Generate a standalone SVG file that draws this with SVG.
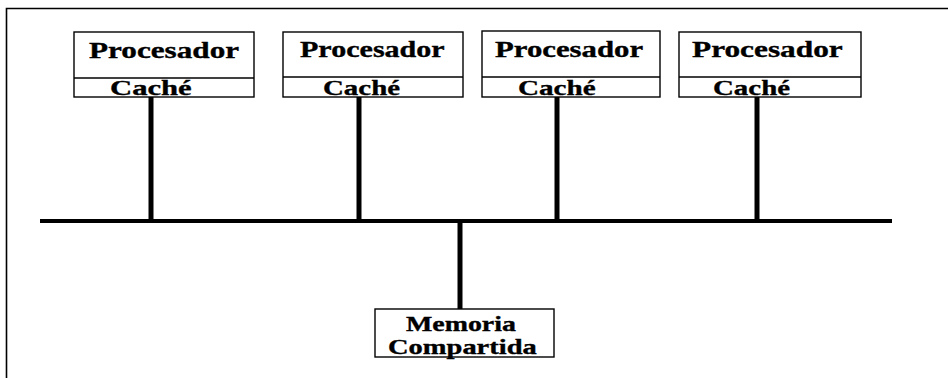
<svg xmlns="http://www.w3.org/2000/svg" width="948" height="378" viewBox="0 0 948 378">
  <style>
    .box { fill: #fff; stroke: #000; stroke-width: 1.4; }
    .lbl { font-family: "Liberation Serif", "Times New Roman", serif; font-weight: bold; fill: #000; stroke: #000; stroke-width: 0.35; }
    .proc { font-size: 23px; }
    .cache { font-size: 22px; }
    .mem { font-size: 21px; }
    .bus { stroke: #000; stroke-width: 4; fill: none; }
    .tap { stroke: #000; stroke-width: 5; fill: none; }
  </style>
  <rect width="948" height="378" fill="#fff"/>
  <!-- frame: top and left edges -->
  <path d="M6.5,378 V8.5 H948" fill="none" stroke="#000" stroke-width="1.6"/>

  <g id="connectors">
    <line class="bus" x1="40" y1="221" x2="892" y2="221"/>
    <line class="tap" x1="151" y1="97" x2="151" y2="221"/>
    <line class="tap" x1="359" y1="97" x2="359" y2="221"/>
    <line class="tap" x1="557" y1="97" x2="557" y2="221"/>
    <line class="tap" x1="757" y1="97" x2="757" y2="221"/>
    <line class="tap" x1="460" y1="221" x2="460" y2="309"/>
  </g>

  <!-- labels are drawn in a widened serif: each text is scaled 1.34x horizontally -->
  <g id="cpu1">
    <rect class="box" x="74" y="32" width="180" height="65"/>
    <line x1="74" y1="78" x2="254" y2="78" stroke="#000" stroke-width="1.4"/>
    <text class="lbl proc" transform="translate(89,58) scale(1.34,1)" textLength="112" lengthAdjust="spacingAndGlyphs">Procesador</text>
    <text class="lbl cache" transform="translate(110,95) scale(1.34,1)" textLength="61" lengthAdjust="spacingAndGlyphs">Caché</text>
  </g>
  <g id="cpu2">
    <rect class="box" x="283" y="32" width="180" height="65"/>
    <line x1="283" y1="77" x2="463" y2="77" stroke="#000" stroke-width="1.4"/>
    <text class="lbl proc" transform="translate(300,57) scale(1.34,1)" textLength="108" lengthAdjust="spacingAndGlyphs">Procesador</text>
    <text class="lbl cache" transform="translate(323,95) scale(1.34,1)" textLength="57.5" lengthAdjust="spacingAndGlyphs">Caché</text>
  </g>
  <g id="cpu3">
    <rect class="box" x="482" y="31" width="178" height="66"/>
    <line x1="482" y1="77" x2="660" y2="77" stroke="#000" stroke-width="1.4"/>
    <text class="lbl proc" transform="translate(495,57) scale(1.34,1)" textLength="110.5" lengthAdjust="spacingAndGlyphs">Procesador</text>
    <text class="lbl cache" transform="translate(518,95) scale(1.34,1)" textLength="58" lengthAdjust="spacingAndGlyphs">Caché</text>
  </g>
  <g id="cpu4">
    <rect class="box" x="679" y="32" width="182" height="65"/>
    <line x1="679" y1="77" x2="861" y2="77" stroke="#000" stroke-width="1.4"/>
    <text class="lbl proc" transform="translate(692,57) scale(1.34,1)" textLength="112.5" lengthAdjust="spacingAndGlyphs">Procesador</text>
    <text class="lbl cache" transform="translate(713,95) scale(1.34,1)" textLength="57.5" lengthAdjust="spacingAndGlyphs">Caché</text>
  </g>

  <g id="memory">
    <rect class="box" x="375" y="309" width="179" height="48"/>
    <text class="lbl mem" transform="translate(406,331) scale(1.34,1)" textLength="82" lengthAdjust="spacingAndGlyphs">Memoria</text>
    <text class="lbl mem" transform="translate(388,354) scale(1.34,1)" textLength="111" lengthAdjust="spacingAndGlyphs">Compartida</text>
  </g>
</svg>
